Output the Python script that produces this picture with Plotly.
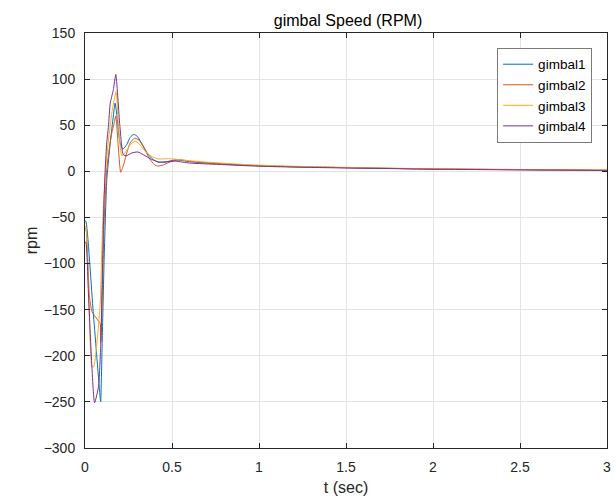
import plotly.graph_objects as go

# ---- data ----
t1 = [0, 0.005, 0.047, 0.087, 0.09, 0.1, 0.11, 0.125, 0.145, 0.163, 0.173, 0.185, 0.2, 0.217,
      0.24, 0.26, 0.28, 0.3, 0.33, 0.36, 0.39, 0.42, 0.46, 0.52, 0.6, 0.7, 0.8, 0.94, 1.05, 1.2,
      1.5, 1.75, 2.0, 2.5, 3.0]
g1 = [-54, -54, -152, -245, -250, -175, -95, -10, 31, 60, 74, 58, 32, 24,
      29, 37, 40, 38, 29, 19, 13, 10, 10, 12.5, 10.5, 9, 8, 6.5, 5.8, 5,
      4, 3.2, 2.5, 1.8, 1.1]

t2 = [0, 0.005, 0.025, 0.04, 0.068, 0.087, 0.091, 0.1, 0.11, 0.125, 0.14, 0.152, 0.167, 0.177,
      0.19, 0.205, 0.22, 0.24, 0.26, 0.285, 0.31, 0.34, 0.37, 0.4, 0.42, 0.45, 0.5, 0.55, 0.6,
      0.7, 0.8, 0.94, 1.05, 1.2, 1.5, 1.75, 2.0, 2.5, 3.0]
g2 = [-62, -62, -135, -152, -160, -165, -185, -125, -55, 2, 25, 40, 52, 60,
      30, -1, 6, 20, 31, 36, 34, 25, 14, 7, 5.7, 7, 11, 12.5, 11,
      9.2, 8, 6.5, 5.8, 5, 4, 3.2, 2.5, 1.8, 1.1]

t3 = [0, 0.005, 0.025, 0.04, 0.05, 0.087, 0.095, 0.105, 0.12, 0.135, 0.154, 0.17, 0.179, 0.19,
      0.211, 0.23, 0.26, 0.287, 0.31, 0.34, 0.38, 0.42, 0.485, 0.55, 0.6, 0.7, 0.8, 0.94,
      1.05, 1.2, 1.5, 1.75, 2.0, 2.5, 3.0]
g3 = [-60, -60, -160, -212, -212, -145, -95, -40, 5, 34, 63, 80, 86.6, 55,
      17, 20, 29, 32.7, 30, 23, 16.5, 13.5, 13.7, 12.5, 11.5, 10, 8.7, 7.2,
      6.3, 5.5, 4.3, 3.5, 2.8, 2, 1.3]

t4 = [0, 0.005, 0.021, 0.055, 0.078, 0.09, 0.1, 0.108, 0.116, 0.125, 0.135, 0.145, 0.163, 0.177,
      0.2, 0.22, 0.24, 0.27, 0.304, 0.335, 0.382, 0.428, 0.52, 0.6, 0.77, 0.94, 1.05, 1.2,
      1.5, 1.75, 2.0, 2.5, 3.0]
g4 = [-77, -77, -138, -251, -233, -190, -110, -40, 2, 31, 49, 74, 88.5, 105,
      50, 18, 17, 20, 21, 18, 13, 10, 11, 9, 7.5, 6, 5.3, 4.6,
      3.6, 3, 2.3, 1.6, 1]

names = ["gimbal1", "gimbal2", "gimbal3", "gimbal4"]
colors = ["#0072BD", "#D95319", "#EDB120", "#7E2F8E"]

x_ticks = [0, 0.5, 1, 1.5, 2, 2.5, 3]
x_labels = ["0", "0.5", "1", "1.5", "2", "2.5", "3"]
y_ticks = [150, 100, 50, 0, -50, -100, -150, -200, -250, -300]

fig = go.Figure()
for tt, gg, nm, c in zip([t1, t2, t3, t4], [g1, g2, g3, g4], names, colors):
    fig.add_trace(go.Scatter(x=tt, y=gg, mode="lines", name=nm,
                             line=dict(color=c, width=1, shape="spline", smoothing=0.5)))

font_family = "Liberation Sans, Arial, Helvetica, sans-serif"
axis_common = dict(
    showline=True, linecolor="#262626", linewidth=1, mirror="ticks",
    ticks="inside", ticklen=5, tickcolor="#262626",
    showgrid=True, gridcolor="#e3e3e3", gridwidth=1,
    zeroline=False, tickfont=dict(size=14, color="#262626", family=font_family),
)

fig.update_layout(
    width=616, height=499,
    margin=dict(l=85, r=5, t=33, b=49),
    paper_bgcolor="white", plot_bgcolor="white",
    font=dict(family=font_family, color="#262626"),
    title=dict(text="gimbal Speed (RPM)", x=(85 + 611) / 2 / 616, xanchor="center",
               y=1 - 20 / 499, yanchor="middle", font=dict(size=16, color="#000000")),
    showlegend=True,
    legend=dict(x=0.9715, xanchor="right", y=0.964, yanchor="top",
                bgcolor="white", bordercolor="#7a7a7a", borderwidth=1,
                font=dict(size=13.5, color="#000000"), tracegroupgap=0,
                itemwidth=30),
    xaxis=dict(range=[0, 3], tickvals=x_ticks, ticktext=x_labels,
               title=dict(text="t (sec)", font=dict(size=16, color="#262626"), standoff=8),
               ticklabelstandoff=6, **axis_common),
    yaxis=dict(range=[-300, 150], tickvals=y_ticks,
               title=dict(text="rpm", font=dict(size=16, color="#262626"), standoff=2),
               ticklabelstandoff=6, **axis_common),
)

fig.write_html("out.html")
